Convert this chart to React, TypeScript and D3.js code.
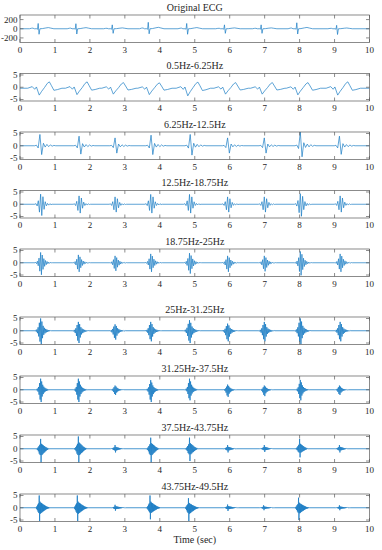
import React from 'react';
import * as d3 from 'd3';

// ---------- layout ----------
const W = 382;
const H = 550;
const X_LEFT = 20;
const X_RIGHT = 369.5;
const PANEL_TOPS = [15, 73.5, 132, 190.5, 249, 317, 376, 435, 494];
const PANEL_H = 27.5;

// ---------- labels ----------
const TITLES = [
  'Original ECG',
  '0.5Hz-6.25Hz',
  '6.25Hz-12.5Hz',
  '12.5Hz-18.75Hz',
  '18.75Hz-25Hz',
  '25Hz-31.25Hz',
  '31.25Hz-37.5Hz',
  '37.5Hz-43.75Hz',
  '43.75Hz-49.5Hz',
];
const X_TICKS = [0, 1, 2, 3, 4, 5, 6, 7, 8, 9, 10];
const Y_TICKS_ECG = [-200, 0, 200];
const Y_TICKS_BAND = [-5, 0, 5];
const Y_DOMAIN_ECG = [-300, 300];
const Y_DOMAIN_BAND = [-5.6, 5.6];
const X_LABEL = 'Time (sec)';

// ---------- data: original ECG ----------
const origBeats = [0.52, 1.6, 2.64, 3.67, 4.77, 5.85, 6.9, 7.92, 9.06];
const origR = [115, 110, 85, 140, 115, 85, 85, 130, 75];
const origS = [120, 115, 100, 110, 120, 100, 100, 115, 125];
const origShapeT = [-0.25, -0.19, -0.15, -0.11, -0.04, -0.02, 0, 0.025, 0.05, 0.12, 0.22, 0.29, 0.36, 0.45];
const origShapeV = [0, 0.1, 0.12, 0, 0, -0.1, 1, -1, 0, 0.03, 0.15, 0.22, 0.12, 0];

// ---------- data: 0.5-6.25 Hz ----------
const band2Beats = [0.52, 1.6, 2.64, 3.67, 4.77, 5.85, 6.9, 7.92, 9.06];
const band2Dip = [2.8, 2.6, 2.4, 2.6, 3.1, 2.4, 2.4, 2.7, 2.8];
const band2Peak = [2.6, 2.6, 2.3, 2.2, 2.5, 2.3, 2.3, 2.3, 2.6];
const band2Base = -0.4;
const band2ShapeT = [-0.3, -0.17, -0.1, -0.05, 0.03, 0.1, 0.18, 0.26, 0.32, 0.38, 0.45, 0.55, 0.68];
const band2ShapeV = [0, 0.25, -0.15, 0.2, -1, -0.45, 0.1, 0.75, 1, 0.4, -0.3, -0.2, 0];

// ---------- data: 6.25-12.5 Hz ----------
const band3Beats = [0.57, 1.69, 2.72, 3.75, 4.87, 5.94, 6.99, 8.02, 9.14];
const band3Up = [4.6, 3.9, 3.2, 4.3, 4.6, 3.2, 3.2, 5.6, 3.9];
const band3Down = [3.6, 3.4, 3.0, 3.6, 3.8, 3.0, 3.0, 4.5, 3.5];
const band3Shape = [0, 0.05, -0.25, 1, -1, 0.22, -0.15, 0.12, -0.1, 0.08, -0.05, 0.03, 0];
const band3Step = 0.05;
const band3Start = -0.15;

// ---------- data: 12.5-18.75 Hz ----------
const band4Beats = [0.59, 1.69, 2.72, 3.74, 4.85, 5.94, 6.99, 8.02, 9.16];
const band4Up = [4.1, 3.4, 3.0, 4.0, 4.0, 3.0, 3.0, 4.3, 3.4];
const band4Down = [4.6, 3.6, 3.2, 3.6, 3.6, 3.2, 3.2, 4.9, 3.2];
const band4Shape = [0, 0.06, -0.15, 0.35, -0.7, 1, -1, 0.75, -0.45, 0.25, -0.14, 0.08, -0.08, 0.05, -0.03, 0];
const band4Step = 0.033;
const band4Start = -0.165;

// ---------- data: 18.75-25 Hz ----------
const band5Beats = [0.59, 1.67, 2.72, 3.74, 4.85, 5.94, 6.99, 8.02, 9.16];
const band5Up = [4.2, 3.2, 2.8, 3.6, 3.9, 2.8, 2.8, 4.6, 3.6];
const band5Down = [4.9, 3.7, 3.3, 3.7, 4.4, 3.7, 3.5, 5.1, 3.7];
const band5Shape = [0, 0.04, -0.08, 0.15, -0.25, 0.45, -0.7, 1, -1, 0.75, -0.55, 0.4, -0.3, 0.22, -0.16, 0.12, -0.08, 0.06, -0.05, 0.04, -0.03, 0.02, 0];
const band5Step = 0.023;
const band5Start = -0.161;

// ---------- data: 25-31.25 Hz ----------
const band6Beats = [0.59, 1.67, 2.72, 3.74, 4.85, 5.94, 6.99, 8.02, 9.16];
const band6Up = [5.0, 3.6, 2.6, 3.6, 4.3, 2.9, 3.6, 5.0, 3.6];
const band6Down = [5.5, 5.0, 3.6, 4.3, 5.0, 4.3, 4.3, 5.5, 4.3];
const band6Shape = [0, 0.04, -0.07, 0.1, -0.18, 0.28, -0.42, 0.65, -0.8, 1, -1, 0.75, -0.55, 0.4, -0.3, 0.24, -0.19, 0.15, -0.12, 0.1, -0.08, 0.06, -0.05, 0.04, -0.03, 0.02, 0];
const band6Step = 0.018;
const band6Start = -0.162;

// ---------- data: 31.25-37.5 Hz ----------
const band7Beats = [0.59, 1.67, 2.72, 3.74, 4.85, 5.94, 6.99, 8.02, 9.14];
const band7Up = [4.5, 4.5, 1.7, 3.9, 4.5, 2.1, 1.7, 4.0, 1.7];
const band7Down = [5.0, 5.0, 2.1, 5.0, 4.3, 2.9, 2.6, 4.3, 2.1];
const band7Shape = [0, 0.04, -0.06, 0.1, -0.15, 0.25, -0.4, 0.6, -0.8, 1, -1, 0.75, -0.55, 0.45, -0.35, 0.28, -0.22, 0.18, -0.14, 0.12, -0.1, 0.08, -0.06, 0.05, -0.04, 0.03, 0];
const band7Step = 0.015;
const band7Start = -0.135;

// ---------- data: 37.5-43.75 Hz ----------
const band8Beats = [0.59, 1.67, 2.72, 3.74, 4.85, 5.94, 6.99, 8.0, 9.14];
const band8Up = [4.0, 5.0, 1.5, 4.5, 4.5, 1.5, 1.5, 4.0, 1.5];
const band8Down = [5.7, 5.7, 1.5, 5.7, 5.0, 1.5, 1.3, 3.5, 1.5];
const band8Shape = [0, -0.03, 0.05, -0.08, 0.12, -0.18, 0.25, -0.35, 0.4, -0.45, 1, -1, 0.5, -0.45, 0.42, -0.38, 0.35, -0.3, 0.28, -0.25, 0.2, -0.18, 0.15, -0.12, 0.1, -0.08, 0.06, -0.04, 0.03, 0];
const band8Step = 0.013;
const band8Start = -0.13;

// ---------- data: 43.75-49.5 Hz ----------
const band9Beats = [0.55, 1.64, 2.72, 3.72, 4.82, 5.94, 6.97, 7.97, 9.14];
const band9Up = [5.0, 5.0, 1.2, 5.0, 3.9, 1.3, 1.0, 4.1, 1.0];
const band9Down = [5.4, 5.4, 1.2, 4.7, 5.4, 1.3, 1.0, 5.0, 1.0];
const band9Shape = [0, -0.03, 0.05, -0.08, 0.12, -0.18, 0.25, -0.3, 0.35, -0.4, 1, -1, 0.5, -0.45, 0.42, -0.4, 0.38, -0.35, 0.33, -0.3, 0.28, -0.26, 0.24, -0.22, 0.2, -0.18, 0.16, -0.14, 0.12, -0.1, 0.09, -0.08, 0.07, -0.06, 0.05, -0.04, 0.03, -0.02, 0];
const band9Step = 0.011;
const band9Start = -0.11;

type Pt = [number, number];

// place the read beat shapes (explicit offsets) at the read beat times
function placeShapes(beats: number[], up: number[], down: number[], offs: number[], vals: number[], base = 0): Pt[] {
  const pts: Pt[] = [[0, base]];
  beats.forEach((b, k) => {
    offs.forEach((o, i) => {
      const v = vals[i];
      pts.push([b + o, base + (v >= 0 ? v * up[k] : v * down[k])]);
    });
  });
  pts.push([10, base]);
  return pts;
}

function placeBursts(beats: number[], up: number[], down: number[], shape: number[], step: number, start: number): Pt[] {
  const offs = shape.map((_, i) => start + i * step);
  return placeShapes(beats, up, down, offs, shape, 0);
}

const SERIES: Pt[][] = [
  placeShapes(origBeats, origR, origS, origShapeT, origShapeV, 0),
  placeShapes(band2Beats, band2Peak, band2Dip, band2ShapeT, band2ShapeV, band2Base),
  placeBursts(band3Beats, band3Up, band3Down, band3Shape, band3Step, band3Start),
  placeBursts(band4Beats, band4Up, band4Down, band4Shape, band4Step, band4Start),
  placeBursts(band5Beats, band5Up, band5Down, band5Shape, band5Step, band5Start),
  placeBursts(band6Beats, band6Up, band6Down, band6Shape, band6Step, band6Start),
  placeBursts(band7Beats, band7Up, band7Down, band7Shape, band7Step, band7Start),
  placeBursts(band8Beats, band8Up, band8Down, band8Shape, band8Step, band8Start),
  placeBursts(band9Beats, band9Up, band9Down, band9Shape, band9Step, band9Start),
];

const FONT = '"Liberation Serif", "DejaVu Serif", serif';
const AXIS_COLOR = '#5a5a5a';
const TEXT_COLOR = '#262626';
const LINE_COLOR = '#1a7cc4';
const TICK_LEN = 3.5;

function Panel({ idx }: { idx: number }) {
  const top = PANEL_TOPS[idx];
  const bottom = top + PANEL_H;
  const x = d3.scaleLinear().domain([0, 10]).range([X_LEFT, X_RIGHT]);
  const y = d3
    .scaleLinear()
    .domain(idx === 0 ? Y_DOMAIN_ECG : Y_DOMAIN_BAND)
    .range([bottom, top]);
  const yTicks = idx === 0 ? Y_TICKS_ECG : Y_TICKS_BAND;
  const line = d3
    .line<Pt>()
    .x((d) => x(d[0]))
    .y((d) => y(d[1]));
  const clipId = `clip-${idx}`;
  const lw = idx >= 5 ? 0.8 : 0.7;
  return (
    <g>
      <defs>
        <clipPath id={clipId}>
          <rect x={X_LEFT} y={top} width={X_RIGHT - X_LEFT} height={PANEL_H} />
        </clipPath>
      </defs>
      <text
        x={(X_LEFT + X_RIGHT) / 2}
        y={top - 4.5}
        textAnchor="middle"
        fontFamily={FONT}
        fontSize={10}
        fill={TEXT_COLOR}
      >
        {TITLES[idx]}
      </text>
      <path
        d={line(SERIES[idx]) || ''}
        fill="none"
        stroke={LINE_COLOR}
        strokeWidth={lw}
        strokeLinejoin="round"
        clipPath={`url(#${clipId})`}
      />
      <rect
        x={X_LEFT}
        y={top}
        width={X_RIGHT - X_LEFT}
        height={PANEL_H}
        fill="none"
        stroke={AXIS_COLOR}
        strokeWidth={0.7}
      />
      {X_TICKS.map((t) => (
        <g key={`xt${t}`}>
          <line x1={x(t)} x2={x(t)} y1={bottom} y2={bottom - TICK_LEN} stroke={AXIS_COLOR} strokeWidth={0.7} />
          <line x1={x(t)} x2={x(t)} y1={top} y2={top + TICK_LEN} stroke={AXIS_COLOR} strokeWidth={0.7} />
          <text
            x={x(t)}
            y={bottom + 10}
            textAnchor="middle"
            fontFamily={FONT}
            fontSize={9}
            fill={TEXT_COLOR}
          >
            {t}
          </text>
        </g>
      ))}
      {yTicks.map((t) => (
        <g key={`yt${t}`}>
          <line x1={X_LEFT} x2={X_LEFT + TICK_LEN} y1={y(t)} y2={y(t)} stroke={AXIS_COLOR} strokeWidth={0.7} />
          <line x1={X_RIGHT} x2={X_RIGHT - TICK_LEN} y1={y(t)} y2={y(t)} stroke={AXIS_COLOR} strokeWidth={0.7} />
          <text
            x={X_LEFT - 2.5}
            y={y(t)}
            dy="0.33em"
            textAnchor="end"
            fontFamily={FONT}
            fontSize={9}
            fill={TEXT_COLOR}
          >
            {t}
          </text>
        </g>
      ))}
    </g>
  );
}

export default function App() {
  const lastBottom = PANEL_TOPS[PANEL_TOPS.length - 1] + PANEL_H;
  return (
    <svg
      width={W}
      height={H}
      viewBox={`0 0 ${W} ${H}`}
      style={{ position: 'absolute', left: 0, top: 0, background: '#fff' }}
    >
      <rect x={0} y={0} width={W} height={H} fill="#fff" />
      {TITLES.map((_, i) => (
        <Panel key={i} idx={i} />
      ))}
      <text
        x={(X_LEFT + X_RIGHT) / 2}
        y={lastBottom + 21.5}
        textAnchor="middle"
        fontFamily={FONT}
        fontSize={10}
        fill={TEXT_COLOR}
      >
        {X_LABEL}
      </text>
    </svg>
  );
}
